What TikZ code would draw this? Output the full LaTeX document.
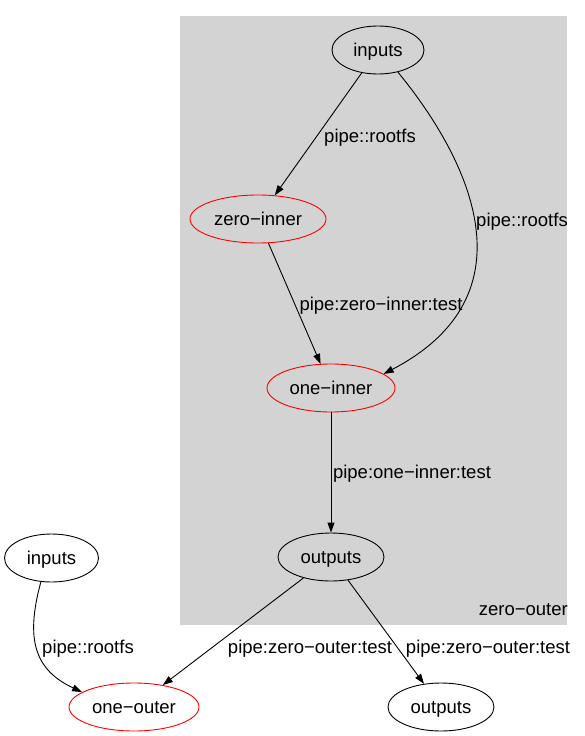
\documentclass[tikz,border=0pt]{standalone}
\usepackage{xcolor}
\usepackage{fontspec}
\setmainfont{Liberation Sans}
\usepackage{tikz}
\usetikzlibrary{shapes.geometric,arrows.meta}
\definecolor{clustergray}{HTML}{D3D3D3}

\begin{document}
\begin{tikzpicture}[y=-1pt,x=1pt,
	job/.style={ellipse, draw=black, line width=0.9pt, inner sep=0pt, minimum height=48pt, text height=16pt, text depth=3pt, font=\fontsize{18.5}{20}\selectfont},
	failjob/.style={job, draw=red},
	lbl/.style={inner sep=0pt, text height=16pt, text depth=3pt, font=\fontsize{18.5}{20}\selectfont},
	edge/.style={draw=black, line width=0.9pt, -{Triangle[length=10pt,width=7pt]}}]
	\useasboundingbox (0,0) rectangle (584,736);

	\fill[clustergray] (180,16) rectangle (567,625);
	\node[lbl, anchor=east] (clusterlbl) at (568,609) {zero−outer};

	\node[job, minimum width=92pt] (inA) at (378,50) {inputs};
	\node[failjob, minimum width=136pt] (zeroI) at (258,219) {zero−inner};
	\node[failjob, minimum width=128pt] (oneI) at (331,388) {one−inner};
	\node[job, minimum width=106pt] (outA) at (331,557) {outputs};

	\node[job, minimum width=94pt] (inB) at (51.5,558) {inputs};
	\node[failjob, minimum width=130pt] (oneO) at (134,707) {one−outer};
	\node[job, minimum width=106pt] (outB) at (441,707) {outputs};

	\draw[edge] (inA) -- (zeroI);
	\draw[edge] (inA.-48) .. controls (470,160) and (535,295) .. (oneI.15);
	\draw[edge] (zeroI) -- (oneI);
	\draw[edge] (oneI) -- (outA);
	\draw[edge] (inB.-114) .. controls (25,640) and (35,670) .. (oneO.164);
	\draw[edge] (outA) -- (oneO);
	\draw[edge] (outA) -- (outB);

	\node[lbl] (l1) at (370,136) {pipe::rootfs};
	\node[lbl] (l2) at (522,220) {pipe::rootfs};
	\node[lbl] (l3) at (381,304) {pipe:zero−inner:test};
	\node[lbl] (l4) at (412,472) {pipe:one−inner:test};
	\node[lbl] (l5) at (88,647) {pipe::rootfs};
	\node[lbl] (l6) at (310,647) {pipe:zero−outer:test};
	\node[lbl] (l7) at (488,647) {pipe:zero−outer:test};
\end{tikzpicture}
\end{document}
